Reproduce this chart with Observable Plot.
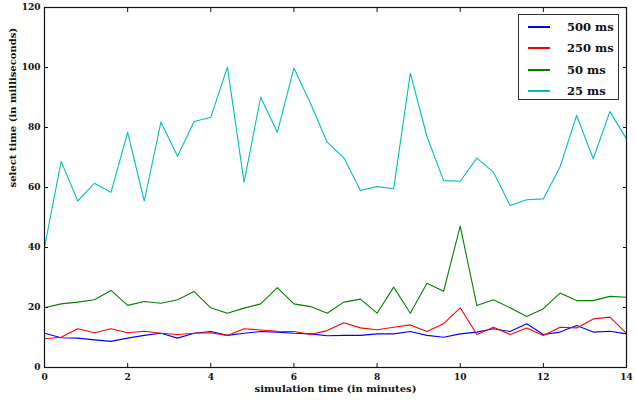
<!DOCTYPE html>
<html><head><meta charset="utf-8">
<script src="https://cdn.jsdelivr.net/npm/d3@7"></script>
<script src="https://cdn.jsdelivr.net/npm/@observablehq/plot@0.6"></script>
<style>
body{margin:0;background:#fff;}
#wrap{position:relative;width:636px;height:402px;}
.legend{position:absolute;left:518px;top:14px;width:101px;height:86px;border:1.5px solid #333;background:#fff;box-sizing:border-box;font-family:"DejaVu Serif",serif;font-weight:bold;font-size:11.5px;color:#111;}
.legend .row{position:absolute;left:0;height:14px;display:flex;align-items:center;}
.legend .sw{display:inline-block;width:22px;height:1.3px;margin-left:9px;margin-right:17px;}
</style>
</head><body>
<div id="wrap"></div>
<script>
const times = [0,0.4,0.8,1.2,1.6,2.0,2.4,2.8,3.2,3.6,4.0,4.4,4.8,5.2,5.6,6.0,6.4,6.8,7.2,7.6,8.0,8.4,8.8,9.2,9.6,10.0,10.4,10.8,11.2,11.6,12.0,12.4,12.8,13.2,13.6,14.0];
const series = ["500 ms","250 ms","50 ms","25 ms"];
const colors = ["#0000ff","#ff0000","#008000","#00bfbf"];
const v500 = [11.4,9.9,9.8,9.2,8.7,9.8,10.7,11.4,9.8,11.4,12.0,10.7,11.4,12.0,11.8,11.4,11.2,10.6,10.7,10.7,11.2,11.2,12.0,10.7,10.1,11.2,11.8,12.9,12.0,14.6,11.0,11.8,14.0,11.8,12.1,11.2];
const v250 = [9.6,10.1,12.9,11.6,12.9,11.6,12.1,11.4,11.0,11.4,11.6,10.7,12.9,12.5,12.1,12.0,11.0,12.3,14.9,13.2,12.6,13.4,14.2,12.0,14.6,19.9,11.0,13.4,11.0,13.2,10.7,13.4,13.2,16.2,16.8,11.4];
const v50 = [19.9,21.2,21.8,22.6,25.7,20.7,22.0,21.4,22.6,25.3,19.9,18.1,19.8,21.2,26.6,21.2,20.3,18.1,21.8,22.8,18.1,26.8,18.1,28.1,25.4,47.1,20.7,22.6,19.9,17.0,19.6,24.8,22.3,22.3,23.7,23.4];
const v25 = [40.0,68.7,55.5,61.4,58.4,78.4,55.5,81.8,70.4,82.0,83.4,100.1,61.8,90.1,78.4,99.8,88.0,75.1,69.9,59.0,60.3,59.6,98.1,77.0,62.3,62.1,69.8,65.1,54.0,55.9,56.2,66.8,84.0,69.6,85.3,76.2];
const xTicks = [0,2,4,6,8,10,12,14];
const yTicks = [0,20,40,60,80,100,120];
const xLabel = "simulation time (in minutes)";
const yLabel = "select time (in milliseconds)";

const valueArrays = [v500, v250, v50, v25];
const data = [];
series.forEach((s, i) => times.forEach((t, j) => data.push({series: s, t, v: valueArrays[i][j]})));

const font = {fontFamily: "DejaVu Serif, serif", fontWeight: "bold"};
const chart = Plot.plot({
  width: 636, height: 402,
  marginLeft: 44, marginRight: 10, marginTop: 7, marginBottom: 35,
  style: {background: "#fff", color: "#111", fontFamily: "DejaVu Serif, serif", fontWeight: "bold"},
  x: {domain: [0, 14]},
  y: {domain: [0, 120]},
  color: {domain: series, range: colors},
  marks: [
    Plot.line(data, {x: "t", y: "v", z: "series", stroke: "series", strokeWidth: 1.1}),
    Plot.frame({stroke: "#111", strokeWidth: 1.2}),
    Plot.axisX({ticks: xTicks, tickSize: -4, tickPadding: 10, tickFormat: d => d, fontSize: 9, ...font, label: null}),
    Plot.axisX({anchor: "top", ticks: xTicks, tickSize: -4, fill: "none", label: null}),
    Plot.axisY({ticks: yTicks, tickSize: -4, tickPadding: 8, tickFormat: d => d, fontSize: 9, ...font, label: null}),
    Plot.axisY({anchor: "right", ticks: yTicks, tickSize: -4, fill: "none", label: null}),
    Plot.text([xLabel], {text: d => d, frameAnchor: "bottom", dy: 24, fontSize: 10, ...font}),
    Plot.text([yLabel], {text: d => d, frameAnchor: "left", dx: -32, rotate: -90, fontSize: 10, ...font})
  ]
});
const wrap = document.getElementById("wrap");
wrap.appendChild(chart);
const leg = document.createElement("div");
leg.className = "legend";
const rowTops = [5, 26, 48, 69];
series.forEach((s, i) => {
  const r = document.createElement("div");
  r.className = "row";
  r.style.top = rowTops[i] + "px";
  r.innerHTML = `<span class="sw" style="background:${colors[i]}"></span><span>${s}</span>`;
  leg.appendChild(r);
});
wrap.appendChild(leg);
</script>
</body></html>
